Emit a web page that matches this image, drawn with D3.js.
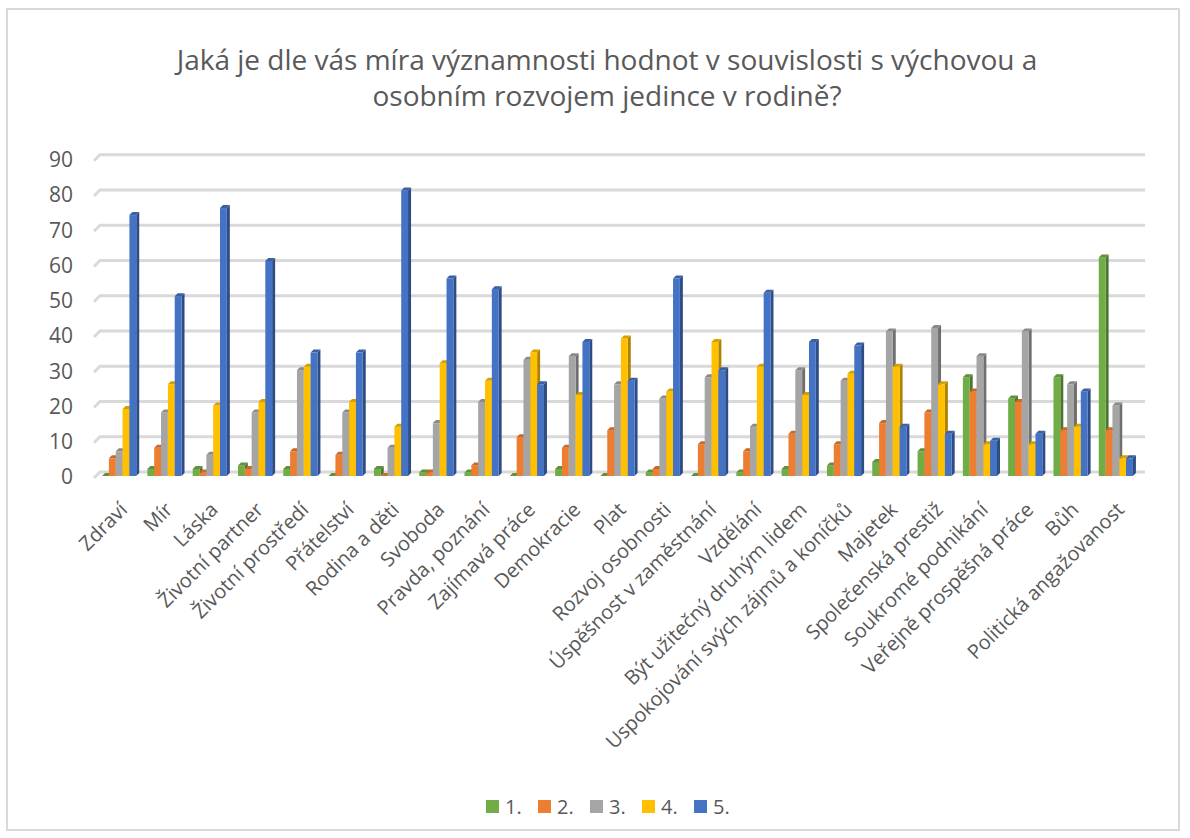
<!DOCTYPE html>
<html>
<head>
<meta charset="utf-8">
<script src="https://cdn.jsdelivr.net/npm/d3@7"></script>
<style>
  html, body { margin: 0; padding: 0; background: #fff; }
  svg { display: block; font-family: "Open Sans", "Noto Sans", sans-serif; }
</style>
</head>
<body>
<div id="chart"></div>
<script>
// Excel-style 3D clustered columns: value ratings 1.–5. per category.

const categories = [
  "Zdraví", "Mír", "Láska", "Životní partner", "Životní prostředí", "Přátelství",
  "Rodina a děti", "Svoboda", "Pravda, poznání", "Zajímavá práce", "Demokracie",
  "Plat", "Rozvoj osobnosti", "Úspěšnost v zaměstnání", "Vzdělání",
  "Být užitečný druhým lidem", "Uspokojování svých zájmů a koníčků", "Majetek",
  "Společenská prestiž", "Soukromé podnikání", "Veřejně prospěšná práce", "Bůh",
  "Politická angažovanost"
];

const seriesNames = ["1.", "2.", "3.", "4.", "5."];

const s1 = [0, 2, 2, 3, 2, 0, 2, 1, 1, 0, 2, 0, 1, 0, 1, 2, 3, 4, 7, 28, 22, 28, 62];
const s2 = [5, 8, 1, 2, 7, 6, 0, 1, 3, 11, 8, 13, 2, 9, 7, 12, 9, 15, 18, 24, 21, 13, 13];
const s3 = [7, 18, 6, 18, 30, 18, 8, 15, 21, 33, 34, 26, 22, 28, 14, 30, 27, 41, 42, 34, 41, 26, 20];
const s4 = [19, 26, 20, 21, 31, 21, 14, 32, 27, 35, 23, 39, 24, 38, 31, 23, 29, 31, 26, 9, 9, 14, 5];
const s5 = [74, 51, 76, 61, 35, 35, 81, 56, 53, 26, 38, 27, 56, 30, 52, 38, 37, 14, 12, 10, 12, 24, 5];

const yTicks = [0, 10, 20, 30, 40, 50, 60, 70, 80, 90];

const COLORS = ["#70ad47", "#ed7d31", "#a5a5a5", "#ffc000", "#4472c4"];
const TEXT = "#595959";
const GRID = "#d9d9d9";

const W = 1190, H = 838;
const DEPTH = 3;

const values = [s1, s2, s3, s4, s5];

const svg = d3.select("#chart").append("svg")
  .attr("width", W).attr("height", H)
  .attr("viewBox", [0, 0, W, H]);

svg.append("rect")
  .attr("x", 7).attr("y", 9).attr("width", 1172).attr("height", 821)
  .attr("fill", "#fff").attr("stroke", GRID).attr("stroke-width", 2);

// title
svg.append("text")
  .attr("text-anchor", "middle")
  .attr("fill", TEXT).style("font-size", "28px")
  .selectAll("tspan")
  .data(["Jaká je dle vás míra významnosti hodnot v souvislosti s výchovou a",
         "osobním rozvojem jedince v rodině?"])
  .join("tspan")
  .attr("x", 607)
  .attr("y", (d, i) => 70 + i * 36)
  .text(d => d);

const x = d3.scaleBand().domain(categories).range([98, 1140])
  .paddingInner(0.18).paddingOuter(0.09);
const xs = d3.scaleBand().domain(d3.range(seriesNames.length))
  .range([0, x.bandwidth() - DEPTH]);
const y = d3.scaleLinear().domain([0, 90]).range([476, 158.7]);

// back wall gridlines with the short floor diagonal at the left
const grid = svg.append("g");
yTicks.forEach(t => {
  grid.append("path")
    .attr("d", `M94,${y(t) + 2}L100,${y(t) - 4}H1145`)
    .attr("fill", "none").attr("stroke", GRID).attr("stroke-width", 3);
});

// y tick labels
svg.append("g")
  .selectAll("text")
  .data(yTicks)
  .join("text")
  .attr("x", 73).attr("y", d => y(d) + 1)
  .attr("dy", "0.35em")
  .attr("text-anchor", "end")
  .attr("fill", TEXT).style("font-size", "21px")
  .text(d => d);

// bars, left to right so later fronts cover earlier side faces
const bars = svg.append("g");
categories.forEach((cat, ci) => {
  values.forEach((series, si) => {
    const v = series[ci];
    const c = d3.color(COLORS[si]);
    const x0 = x(cat) + xs(si);
    const w = xs.bandwidth();
    const yt = y(v), yb = y(0);
    const g = bars.append("g");
    g.append("path")
      .attr("d", `M${x0 + w},${yt}L${x0 + w + DEPTH},${yt - DEPTH}V${yb - DEPTH}L${x0 + w},${yb}Z`)
      .attr("fill", c.darker(1.1));
    g.append("rect")
      .attr("x", x0).attr("y", yt)
      .attr("width", w).attr("height", yb - yt)
      .attr("fill", c);
    g.append("path")
      .attr("d", `M${x0},${yt}L${x0 + DEPTH},${yt - DEPTH}H${x0 + w + DEPTH}L${x0 + w},${yt}Z`)
      .attr("fill", c.darker(0.5));
  });
});

// category labels
svg.append("g")
  .selectAll("text")
  .data(categories)
  .join("text")
  .attr("transform", d => `translate(${x(d) + x.bandwidth() / 2 + 3},506) rotate(-45)`)
  .attr("dy", "0.35em")
  .attr("text-anchor", "end")
  .attr("fill", TEXT).style("font-size", "20px")
  .text(d => d);

// legend
const legend = svg.append("g");
seriesNames.forEach((name, i) => {
  const lx = 486 + i * 52;
  legend.append("rect")
    .attr("x", lx).attr("y", 800).attr("width", 13).attr("height", 13)
    .attr("fill", COLORS[i]);
  legend.append("text")
    .attr("x", lx + 19).attr("y", 814)
    .attr("fill", TEXT).style("font-size", "20px")
    .text(name);
});
</script>
</body>
</html>
